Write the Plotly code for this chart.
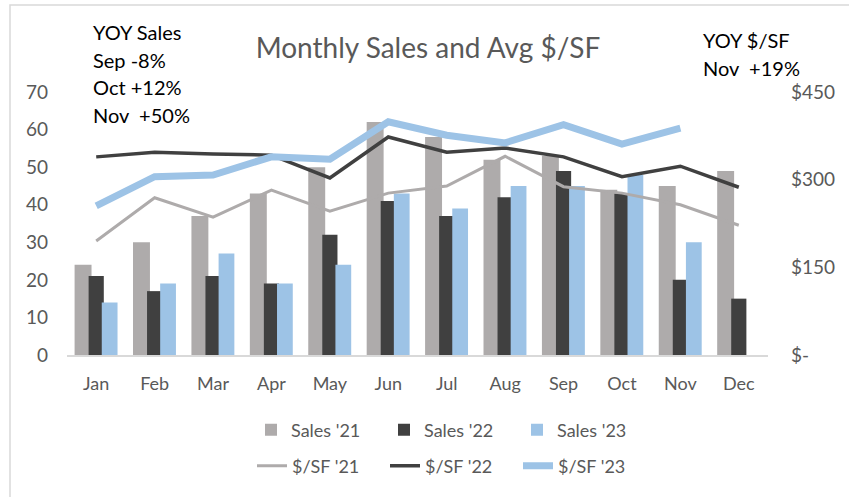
import plotly.graph_objects as go

months = ["Jan", "Feb", "Mar", "Apr", "May", "Jun", "Jul", "Aug", "Sep", "Oct", "Nov", "Dec"]
sales_21 = [24, 30, 37, 43, 50, 62, 58, 52, 53, 44, 45, 49]
sales_22 = [21, 17, 21, 19, 32, 41, 37, 42, 49, 43, 20, 15]
sales_23 = [14, 19, 27, 19, 24, 43, 39, 45, 45, 48, 30, None]
psf_21 = [195, 269, 236, 282, 246, 277, 289, 340, 288, 277, 257, 222]
psf_22 = [339, 347, 344, 342, 303, 373, 347, 354, 339, 305, 323, 287]
psf_23 = [255, 305, 308, 339, 335, 399, 376, 363, 394, 361, 388, None]
right_ticks = [0, 150, 300, 450]
right_labels = ["$-", "$150", "$300", "$450"]

C21 = "#AEABAB"
C22 = "#404040"
C23 = "#9DC3E6"
TXT = "#595959"
FONT = "Lato"

# plot area in pixels
L, R, T, B = 67, 768, 92, 355
W, H = 849, 497

def px_x(x):
    return (x - L) / (R - L)

def px_y(y):
    return (B - y) / (B - T)

fig = go.Figure()
fig.add_trace(go.Bar(x=months, y=sales_21, name="Sales '21", marker=dict(color=C21, line=dict(width=0)),
                     width=0.29, offset=-0.37, legend="legend"))
fig.add_trace(go.Bar(x=months, y=sales_22, name="Sales '22", marker=dict(color=C22, line=dict(width=0)),
                     width=0.26, offset=-0.13, legend="legend"))
fig.add_trace(go.Bar(x=months, y=sales_23, name="Sales '23", marker=dict(color=C23, line=dict(width=0)),
                     width=0.27, offset=0.095, legend="legend"))
fig.add_trace(go.Scatter(x=months, y=psf_21, name="$/SF '21", mode="lines", yaxis="y2",
                         line=dict(color=C21, width=3), legend="legend2"))
fig.add_trace(go.Scatter(x=months, y=psf_22, name="$/SF '22", mode="lines", yaxis="y2",
                         line=dict(color=C22, width=3.5), legend="legend2"))
fig.add_trace(go.Scatter(x=months, y=psf_23, name="$/SF '23", mode="lines", yaxis="y2",
                         line=dict(color=C23, width=7), legend="legend2"))

annots = [
    ("YOY Sales", 91, 32),
    ("Sep -8%", 91, 60),
    ("Oct +12%", 91, 87),
    ("Nov  +50%", 91, 115),
    ("YOY $/SF", 701, 40),
    ("Nov  +19%", 701, 68),
]
for text, x, y in annots:
    fig.add_annotation(text=text, xref="paper", yref="paper", x=px_x(x), y=px_y(y),
                       xanchor="left", yanchor="middle", showarrow=False,
                       font=dict(family=FONT, size=20, color="black"))

fig.add_shape(type="rect", xref="paper", yref="paper",
              x0=px_x(10), x1=px_x(900), y0=px_y(5), y1=px_y(560),
              line=dict(color="#D9D9D9", width=1.5), layer="below")

fig.update_layout(
    width=W, height=H,
    margin=dict(l=L, r=W - R, t=T, b=H - B),
    paper_bgcolor="white", plot_bgcolor="white",
    barmode="overlay",
    title=dict(text="Monthly Sales and Avg $/SF", x=428 / W, xanchor="center",
               y=1 - 48 / H, yanchor="middle",
               font=dict(family=FONT, size=28, color=TXT)),
    font=dict(family=FONT, color=TXT),
    xaxis=dict(type="category", range=[-0.5, 11.5], showgrid=False,
               showline=True, linecolor="#D9D9D9", linewidth=1.5,
               ticks="", tickfont=dict(family=FONT, size=18, color=TXT), ticklabelstandoff=12),
    yaxis=dict(range=[0, 70], dtick=10, showgrid=False, zeroline=False, showline=False,
               ticks="", tickfont=dict(family=FONT, size=19, color=TXT), ticklabelstandoff=18),
    yaxis2=dict(range=[0, 450], overlaying="y", side="right", showgrid=False, zeroline=False,
                tickvals=right_ticks, ticktext=right_labels, ticks="",
                tickfont=dict(family=FONT, size=19, color=TXT), ticklabelstandoff=22),
    legend=dict(orientation="h", x=px_x(251), y=px_y(430), xanchor="left", yanchor="middle",
                font=dict(family=FONT, size=18, color=TXT), entrywidth=88, bgcolor="rgba(0,0,0,0)"),
    legend2=dict(orientation="h", x=px_x(252), y=px_y(466), xanchor="left", yanchor="middle",
                 font=dict(family=FONT, size=18, color=TXT), entrywidth=88, bgcolor="rgba(0,0,0,0)"),
    showlegend=True,
)

fig.write_html("out.html")
